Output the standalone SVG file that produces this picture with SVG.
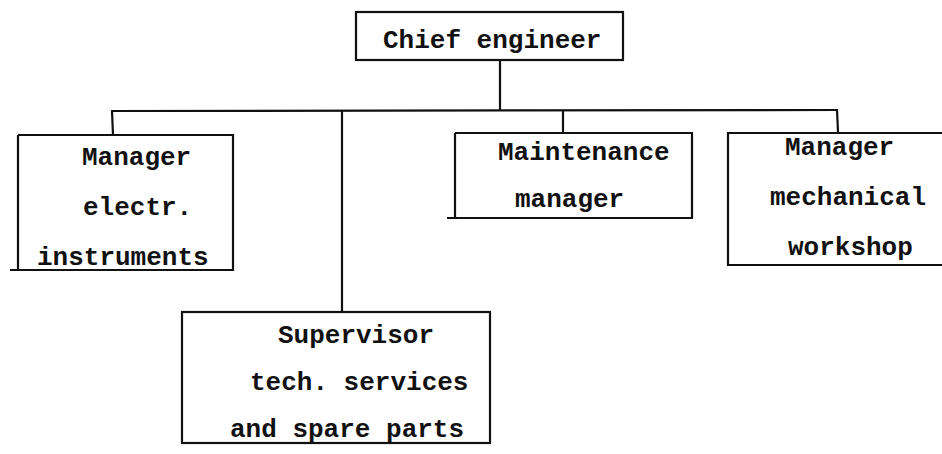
<svg xmlns="http://www.w3.org/2000/svg" width="942" height="454" viewBox="0 0 942 454">
<style>
.box{fill:none;stroke:#111;stroke-width:2.2;stroke-linejoin:miter}
.ln{fill:none;stroke:#111;stroke-width:2.2}
text{font-family:"Liberation Mono","DejaVu Sans Mono",monospace;font-size:26px;fill:#111;font-weight:bold}
</style>
<rect width="942" height="454" fill="#fff"/>
<g id="connectors">
<line class="ln" x1="500" y1="60" x2="500" y2="111"/>
<line class="ln" x1="111" y1="111" x2="838" y2="110"/>
<line class="ln" x1="112" y1="111" x2="113" y2="135"/>
<line class="ln" x1="342" y1="111" x2="342" y2="312"/>
<line class="ln" x1="563" y1="111" x2="563" y2="133"/>
<line class="ln" x1="837" y1="110" x2="838" y2="132"/>
</g>
<g id="chief">
<rect class="box" x="356" y="12" width="267" height="48"/>
<text x="383" y="48">Chief engineer</text>
</g>
<g id="electr">
<path class="box" d="M18,135 H233 V270 H10 M18,135 V270"/>
<text x="82" y="165">Manager</text>
<text x="83" y="215">electr.</text>
<text x="37" y="265">instruments</text>
</g>
<g id="maintenance">
<path class="box" d="M455,133 H692 V218 H447 M455,133 V218"/>
<text x="498" y="160">Maintenance</text>
<text x="515" y="207">manager</text>
</g>
<g id="mechanical">
<path class="box" d="M942,133 H728 V265 H942"/>
<text x="785" y="155">Manager</text>
<text x="770" y="205">mechanical</text>
<text x="788" y="255">workshop</text>
</g>
<g id="supervisor">
<rect class="box" x="182" y="312" width="308" height="131"/>
<text x="278" y="343">Supervisor</text>
<text x="250" y="390">tech. services</text>
<text x="230" y="437">and spare parts</text>
</g>
</svg>
